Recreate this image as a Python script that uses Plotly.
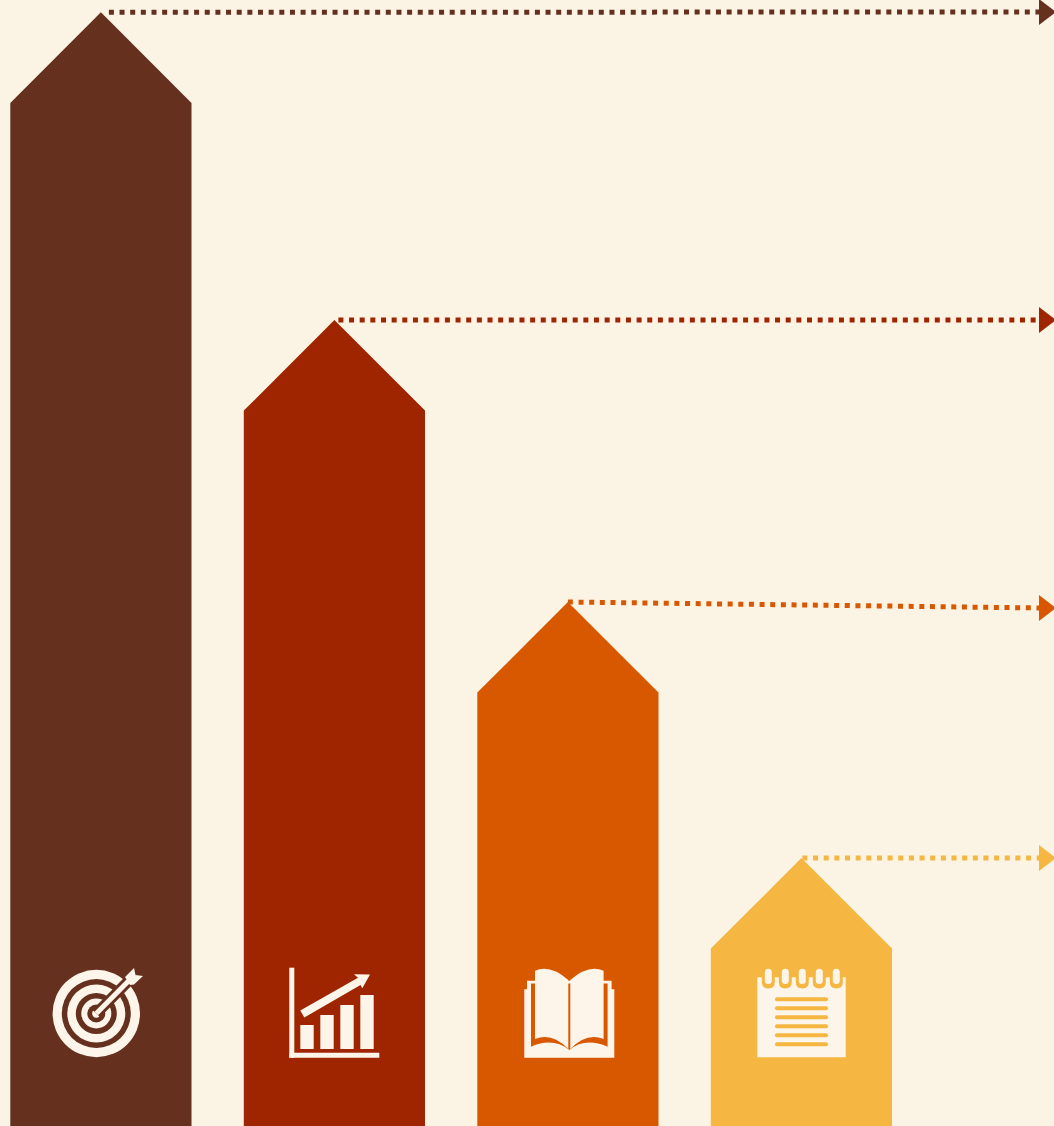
import plotly.graph_objects as go

# Column data: peak height of each arrow column, and where its dotted leader ends
categories = ["Goal", "Growth", "Study", "Notes"]
peak_values = [1113.7, 806, 524, 268]
leader_end_values = [1114, 806, 518, 268]
colors = ["#65301D", "#9F2500", "#D85800", "#F5B642"]

WIDTH, HEIGHT = 1054, 1126
BG = "#FBF4E5"
CREAM = "#FDF5EA"
FIRST_CENTER, STEP = 100.9, 233.5
HALF_W, HEAD = 90.6, 90.6
LEADER_GAP = [8, 4, 0, 1]
LEADER_END_X = 1041


def fy(y):
    return HEIGHT - y


def path(*cmds):
    """Build an SVG path from (letter, x, y, ...) tuples given top-down."""
    out = []
    for c in cmds:
        nums = list(c[1:])
        pts = [nums[i] if i % 2 == 0 else fy(nums[i]) for i in range(len(nums))]
        out.append(c[0] + " ".join(f"{v:.2f}" for v in pts))
    return " ".join(out)


def poly(points):
    cmds = [("M", *points[0])] + [("L", *p) for p in points[1:]] + [("Z",)]
    return path(*cmds)


def fill(d, color):
    return dict(type="path", path=d, fillcolor=color, line=dict(width=0), layer="above",
                xref="x", yref="y")


def disc(cx, cy, r, color):
    return dict(type="circle", x0=cx - r, x1=cx + r, y0=fy(cy + r), y1=fy(cy - r),
                fillcolor=color, line=dict(width=0), layer="above", xref="x", yref="y")


def stroke(x0, y0, x1, y1, w, color):
    return dict(type="line", x0=x0, x1=x1, y0=fy(y0), y1=fy(y1),
                line=dict(color=color, width=w), layer="above", xref="x", yref="y")


def rect(x0, y0, x1, y1, color):
    return fill(poly([(x0, y0), (x1, y0), (x1, y1), (x0, y1)]), color)


def pill_v(cx, y0, y1, w, color):
    r = w / 2
    return fill(path(("M", cx - r, y0 + r), ("Q", cx - r, y0, cx, y0), ("Q", cx + r, y0, cx + r, y0 + r),
                     ("L", cx + r, y1 - r), ("Q", cx + r, y1, cx, y1), ("Q", cx - r, y1, cx - r, y1 - r), ("Z",)), color)


def pill_h(x0, x1, cy, h, color):
    r = h / 2
    return fill(path(("M", x0 + r, cy - r), ("L", x1 - r, cy - r), ("Q", x1, cy - r, x1, cy),
                     ("Q", x1, cy + r, x1 - r, cy + r), ("L", x0 + r, cy + r),
                     ("Q", x0, cy + r, x0, cy), ("Q", x0, cy - r, x0 + r, cy - r), ("Z",)), color)


def target_icon(bg):
    cx, cy = 96.3, 1013.5
    s = []
    for r, c in [(43.7, CREAM), (34.5, bg), (29, CREAM), (20.5, bg), (15, CREAM), (9, bg), (4.2, CREAM)]:
        s.append(disc(cx, cy, r, c))
    s.append(stroke(cx, cy, 131, 978.5, 11, bg))
    s.append(stroke(cx, cy, 130, 979.5, 5, CREAM))
    s.append(fill(poly([(125, 977), (134, 968), (135.5, 975), (143, 976), (134, 984.5), (130, 985)]), CREAM))
    return s


def growth_icon(bg):
    s = [rect(289.3, 967.7, 294.3, 1057.7, CREAM), rect(289.3, 1052.7, 379.3, 1057.7, CREAM)]
    for x, top in [(300.3, 1025), (320.3, 1015), (340.3, 1005), (360.3, 995)]:
        s.append(rect(x, top, x + 13.4, 1049, CREAM))
    s.append(fill(poly([(300.3, 1010.5), (358, 977.8), (354, 974.3), (370, 974.6), (362.3, 988.3),
                        (360.5, 985), (304.3, 1017.5)]), CREAM))
    return s


def book_icon(bg):
    m = 2 * 569.3
    base = [(524.3, 989.3), (527, 989.3), (527, 980.7), (535, 980.7), (603.6, 980.7), (611.6, 980.7),
            (611.6, 989.3), (614.3, 989.3), (614.3, 1057.7), (524.3, 1057.7)]
    s = [fill(poly(base), CREAM)]
    s.append(fill(path(("M", 531, 983.5), ("L", 607.6, 983.5), ("L", 607.6, 1046.7),
                       ("Q", 585, 1037, 569.3, 1050), ("Q", 553, 1037, 531, 1046.7), ("Z",)), bg))
    s.append(fill(path(("M", 535, 970.7), ("Q", 550, 964, 568.3, 980), ("L", 568.3, 1049),
                       ("Q", 552, 1032, 535, 1039), ("Z",)), CREAM))
    s.append(fill(path(("M", m - 535, 970.7), ("Q", m - 550, 964, m - 568.3, 980), ("L", m - 568.3, 1049),
                       ("Q", m - 552, 1032, m - 535, 1039), ("Z",)), CREAM))
    return s


def notepad_icon(bg):
    s = [rect(757.3, 977.3, 845.7, 1057.3, CREAM)]
    rings = [768.3, 785.3, 802.3, 819.3, 836.3]
    for x in rings:
        s.append(pill_v(x, 970, 988.5, 13, bg))
    for x in rings:
        s.append(pill_v(x, 968.7, 984, 7, CREAM))
    for y in [999.3, 1008.3, 1017.3, 1026.3, 1035.3, 1044.3]:
        s.append(pill_h(775, 828, y, 4, bg))
    return s


fig = go.Figure()
for i, (name, peak, end, color) in enumerate(zip(categories, peak_values, leader_end_values, colors)):
    cx = FIRST_CENTER + STEP * i
    shoulder = peak - HEAD
    fig.add_trace(go.Scatter(
        x=[cx - HALF_W, cx - HALF_W, cx, cx + HALF_W, cx + HALF_W],
        y=[0, shoulder, peak, shoulder, 0],
        mode="lines", fill="toself", fillcolor=color, line=dict(width=0), name=name,
        hoverinfo="skip"))
    fig.add_trace(go.Scatter(
        x=[cx + LEADER_GAP[i], LEADER_END_X], y=[peak, end],
        mode="lines", line=dict(color=color, width=5, dash="5px,5.65px"),
        hoverinfo="skip"))
    fig.add_trace(go.Scatter(
        x=[1039, 1056, 1039], y=[end + 13, end, end - 13],
        mode="lines", fill="toself", fillcolor=color, line=dict(width=0), hoverinfo="skip"))

shapes = (target_icon(colors[0]) + growth_icon(colors[1]) + book_icon(colors[2]) + notepad_icon(colors[3]))

fig.update_layout(
    width=WIDTH, height=HEIGHT, autosize=False,
    margin=dict(l=0, r=0, t=0, b=0),
    paper_bgcolor=BG, plot_bgcolor=BG, showlegend=False, hovermode=False,
    xaxis=dict(range=[0, WIDTH], visible=False, fixedrange=True),
    yaxis=dict(range=[0, HEIGHT], visible=False, fixedrange=True),
    shapes=shapes,
)
fig.write_html("out.html", config={"displayModeBar": False})
